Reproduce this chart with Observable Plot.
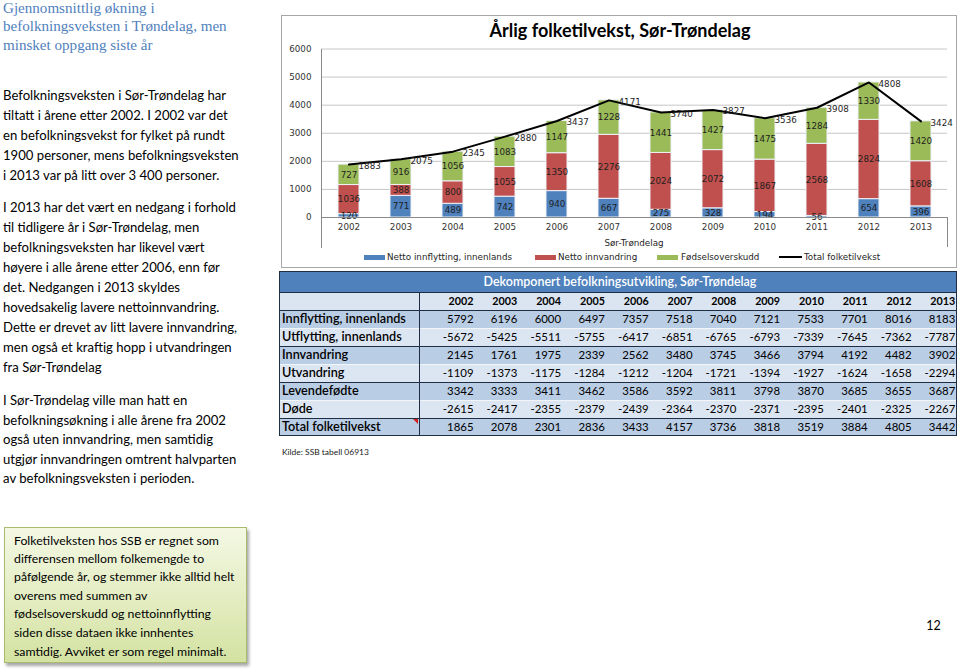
<!DOCTYPE html>
<html><head><meta charset="utf-8">
<script src="https://cdn.jsdelivr.net/npm/d3@7"></script>
<script src="https://cdn.jsdelivr.net/npm/@observablehq/plot@0.6"></script>
<style>
html,body{margin:0;padding:0;background:#fff;}
body{width:959px;height:671px;position:relative;overflow:hidden;}
.abs{position:absolute;white-space:nowrap;}
</style></head><body>
<script>
// ---------- DATA ----------
const years = [2002,2003,2004,2005,2006,2007,2008,2009,2010,2011,2012,2013];
const seriesNames = ["Netto innflytting, innenlands","Netto innvandring","Fødselsoverskudd"];
const seriesColors = ["#4f81bd","#c0504d","#9bbb59"];
const nettoInnflytting = [120,771,489,742,940,667,275,328,194,56,654,396];
const nettoInnvandring = [1036,388,800,1055,1350,2276,2024,2072,1867,2568,2824,1608];
const fodselsoverskudd = [727,916,1056,1083,1147,1228,1441,1427,1475,1284,1330,1420];
const totalFolketilvekst = [1883,2075,2345,2880,3437,4171,3740,3827,3536,3908,4808,3424];
const yTicks = [0,1000,2000,3000,4000,5000,6000];
const chartTitle = "Årlig folketilvekst, Sør-Trøndelag";
const xGroupLabel = "Sør-Trøndelag";
const totalLegend = "Total folketilvekst";

const tableTitle = "Dekomponert befolkningsutvikling, Sør-Trøndelag";
const tableRowLabels = ["Innflytting, innenlands","Utflytting, innenlands","Innvandring","Utvandring","Levendefødte","Døde","Total folketilvekst"];
const innflyttingInnenlands = [5792,6196,6000,6497,7357,7518,7040,7121,7533,7701,8016,8183];
const utflyttingInnenlands = [-5672,-5425,-5511,-5755,-6417,-6851,-6765,-6793,-7339,-7645,-7362,-7787];
const innvandring = [2145,1761,1975,2339,2562,3480,3745,3466,3794,4192,4482,3902];
const utvandring = [-1109,-1373,-1175,-1284,-1212,-1204,-1721,-1394,-1927,-1624,-1658,-2294];
const levendefodte = [3342,3333,3411,3462,3586,3592,3811,3798,3870,3685,3655,3687];
const dode = [-2615,-2417,-2355,-2379,-2439,-2364,-2370,-2371,-2395,-2401,-2325,-2267];
const totalTabell = [1865,2078,2301,2836,3433,4157,3736,3818,3519,3884,4805,3442];
const kilde = "Kilde: SSB tabell 06913";

const headingLines = ["Gjennomsnittlig økning i","befolkningsveksten i Trøndelag, men","minsket oppgang siste år"];
const paragraph1 = ["Befolkningsveksten i Sør-Trøndelag har","tiltatt i årene etter 2002. I 2002 var det","en befolkningsvekst for fylket på rundt","1900 personer, mens befolkningsveksten","i 2013 var på litt over 3 400 personer."];
const paragraph2 = ["I 2013 har det vært en nedgang i forhold","til tidligere år i Sør-Trøndelag, men","befolkningsveksten har likevel vært","høyere i alle årene etter 2006, enn før","det. Nedgangen i 2013 skyldes","hovedsakelig lavere nettoinnvandring.","Dette er drevet av litt lavere innvandring,","men også et kraftig hopp i utvandringen","fra Sør-Trøndelag"];
const paragraph3 = ["I Sør-Trøndelag ville man hatt en","befolkningsøkning i alle årene fra 2002","også uten innvandring, men samtidig","utgjør innvandringen omtrent halvparten","av befolkningsveksten i perioden."];
const noteLines = ["Folketilveksten hos SSB er regnet som","differensen mellom folkemengde to","påfølgende år, og stemmer ikke alltid helt","overens med summen av","fødselsoverskudd og nettoinnflytting","siden disse dataen ikke innhentes","samtidig. Avviket er som regel minimalt."];
const pageNumber = "12";

// ---------- HELPERS ----------
const ctx = document.createElement("canvas").getContext("2d");
function fit(text, family, weight, target) {
  ctx.font = `${weight} 100px ${family}`;
  return 100 * target / ctx.measureText(text).width;
}
function addText(text, o) {
  const d = document.createElement("div");
  d.className = "abs";
  d.textContent = text;
  const lh = o.lh || Math.round(o.size * 1.4);
  d.style.font = `${o.weight || 400} ${o.size}px ${o.family}`;
  d.style.lineHeight = lh + "px";
  d.style.top = (o.y - lh / 2) + "px";
  d.style.color = o.color || "#000";
  if (o.anchor === "middle") { d.style.left = o.x + "px"; d.style.transform = "translateX(-50%)"; }
  else if (o.anchor === "end") { d.style.right = (959 - o.x) + "px"; }
  else d.style.left = o.x + "px";
  document.body.appendChild(d);
  return d;
}
function addBox(x, y, w, h, style) {
  const d = document.createElement("div");
  d.className = "abs";
  Object.assign(d.style, {left: x + "px", top: y + "px", width: w + "px", height: h + "px", boxSizing: "border-box"}, style);
  document.body.appendChild(d);
  return d;
}

// ---------- LEFT TEXT ----------
const serif = '"Liberation Serif", serif';
const sans = 'Lato, "Open Sans", sans-serif';
const hSize = fit(headingLines[1], serif, 400, 224);
[7.5, 26, 45].forEach((y, i) => addText(headingLines[i], {x: 3, y, size: hSize, family: serif, color: "#4f81bd", lh: 18}));
const bSize = fit(paragraph1[3], sans, 400, 236);
[95, 115.3, 135, 155, 175].forEach((y, i) => addText(paragraph1[i], {x: 3, y, size: bSize, family: sans, lh: 20}));
[207, 227, 247.3, 267.3, 287.3, 307.3, 327.3, 347.3, 367.3].forEach((y, i) => addText(paragraph2[i], {x: 3, y, size: bSize, family: sans, lh: 20}));
[400, 419.5, 439, 458.5, 478].forEach((y, i) => addText(paragraph3[i], {x: 3, y, size: bSize, family: sans, lh: 20}));

// note box
addBox(4, 527, 243, 136, {border: "1px solid #a9bb6e", background: "linear-gradient(#f4f8e4, #d4e2a2)", boxShadow: "2px 3px 3px rgba(0,0,0,0.35)"});
const nSize = fit(noteLines[2], sans, 400, 221);
[540.7, 559, 577.3, 596, 614.3, 632.7, 651.7].forEach((y, i) => addText(noteLines[i], {x: 14, y, size: nSize, family: sans, lh: 18}));

addText(pageNumber, {x: 933.5, y: 626, size: 12.5, family: sans, anchor: "middle"});

// ---------- CHART ----------
addBox(281, 15, 676, 253, {border: "1px solid #a6a6a6", background: "#fff"});
const stacked = years.flatMap((year, i) => [
  {year, series: seriesNames[0], value: nettoInnflytting[i]},
  {year, series: seriesNames[1], value: nettoInnvandring[i]},
  {year, series: seriesNames[2], value: fodselsoverskudd[i]}
]);
const totals = years.map((year, i) => ({year, value: totalFolketilvekst[i]}));

const chart = Plot.plot({
  width: 676, height: 252,
  marginLeft: 40, marginRight: 10, marginTop: 33.5, marginBottom: 50,
  style: {fontFamily: '"DejaVu Sans", Verdana, sans-serif', fontSize: "8.75px", color: "#333", background: "transparent", overflow: "visible"},
  x: {type: "band", domain: years, paddingInner: 0.6, paddingOuter: 0.3, label: null, tickSize: 0, tickPadding: 6.5, tickFormat: d => String(d)},
  y: {domain: [0, 6000], ticks: yTicks, tickSize: 0, tickPadding: 10, label: null, tickFormat: d => String(d)},
  color: {domain: seriesNames, range: seriesColors},
  marks: [
    Plot.gridY(yTicks, {stroke: "#c6c6c6", strokeOpacity: 1}),
    Plot.barY(stacked, {x: "year", y: "value", fill: "series", stroke: "#eef2f8", strokeWidth: 1}),
    Plot.text(stacked, Plot.stackY({x: "year", y: "value", text: d => String(d.value), fill: "#1e1e1e"})),
    Plot.ruleY([0], {stroke: "#8a8a8a"}),
    Plot.line(totals, {x: "year", y: "value", stroke: "#000", strokeWidth: 2}),
    Plot.text(totals, {x: "year", y: "value", text: d => String(d.value), textAnchor: "start", dx: 9.5, dy: 1.5, fill: "#1e1e1e"})
  ]
});
chart.style.position = "absolute";
chart.style.left = "281px";
chart.style.top = "15px";
document.body.appendChild(chart);

// category-axis box lines
addBox(320.5, 48.5, 1, 199, {background: "#8a8a8a"});
addBox(946.5, 217, 1, 30, {background: "#8a8a8a"});

const ctSize = fit(chartTitle, sans, 700, 261);
addText(chartTitle, {x: 620, y: 30, size: ctSize, family: sans, weight: 700, anchor: "middle"});
const dv = '"DejaVu Sans", Verdana, sans-serif';
addText(xGroupLabel, {x: 634, y: 242.7, size: 8.75, family: dv, color: "#262626", anchor: "middle", lh: 12});
// legend
const legX = [[364, 387], [535, 558], [657, 681]];
seriesNames.forEach((s, i) => {
  addBox(legX[i][0], 255, 21, 5, {background: seriesColors[i]});
  addText(s, {x: legX[i][1], y: 257.3, size: 8.75, family: dv, color: "#262626", lh: 12});
});
addBox(779, 256.3, 23, 2, {background: "#000"});
addText(totalLegend, {x: 804, y: 257.3, size: 8.75, family: dv, color: "#262626", lh: 12});

// ---------- TABLE ----------
const tableRows = [innflyttingInnenlands, utflyttingInnenlands, innvandring, utvandring, levendefodte, dode, totalTabell];
const tL = 279, tR = 957, tTop = 271, labelRight = 419;
const dark = "#1f2d45";
addBox(tL, tTop, tR - tL, 21, {background: "#4f81bd"});
addBox(tL, 292, tR - tL, 18, {background: "#dbe5f1"});
const rowBg = ["#b9cde5", "#dce6f2", "#b9cde5", "#dce6f2", "#b9cde5", "#dce6f2", "#b9cde5"];
tableRows.forEach((r, k) => addBox(tL, 310 + 18 * k, tR - tL, 18, {background: rowBg[k]}));
// separators
[328, 364, 400].forEach(y => addBox(tL, y - 0.5, tR - tL, 1, {background: "#f2f6fb"}));
[292, 310, 346, 382, 418].forEach(y => addBox(tL, y - 0.5, tR - tL, 1, {background: dark}));
addBox(labelRight - 0.5, 292, 1, 144, {background: dark});
addBox(tL, tTop, tR - tL, 436 - tTop, {border: "1px solid " + dark});
// red comment marker
addBox(413, 418.5, 0, 0, {borderTop: "5px solid #d02020", borderLeft: "5px solid transparent", width: "0px", height: "0px"});

const ttSize = fit(tableTitle, sans, 600, 273);
addText(tableTitle, {x: 620, y: 281.5, size: ttSize, family: sans, weight: 600, color: "#fff", anchor: "middle", lh: 21});
const colRight = years.map((y, k) => 419 + 56 + 43.8 * k - 1.5);
const yrSize = fit("2002", sans, 700, 25);
years.forEach((y, k) => addText(String(y), {x: colRight[k], y: 301, size: yrSize, family: sans, weight: 700, anchor: "end", lh: 18}));
const lbSize = fit(tableRowLabels[0], sans, 600, 124);
const numSize = fit("5792", sans, 400, 26.5);
tableRows.forEach((r, k) => {
  const yc = 319 + 18 * k;
  addText(tableRowLabels[k], {x: 282, y: yc, size: lbSize, family: sans, weight: 600, lh: 18});
  r.forEach((v, j) => addText(String(v), {x: colRight[j], y: yc, size: numSize, family: sans, anchor: "end", lh: 18}));
});
addText(kilde, {x: 282, y: 452, size: fit(kilde, sans, 400, 87), family: sans, color: "#222", lh: 12});
</script>
</body></html>
